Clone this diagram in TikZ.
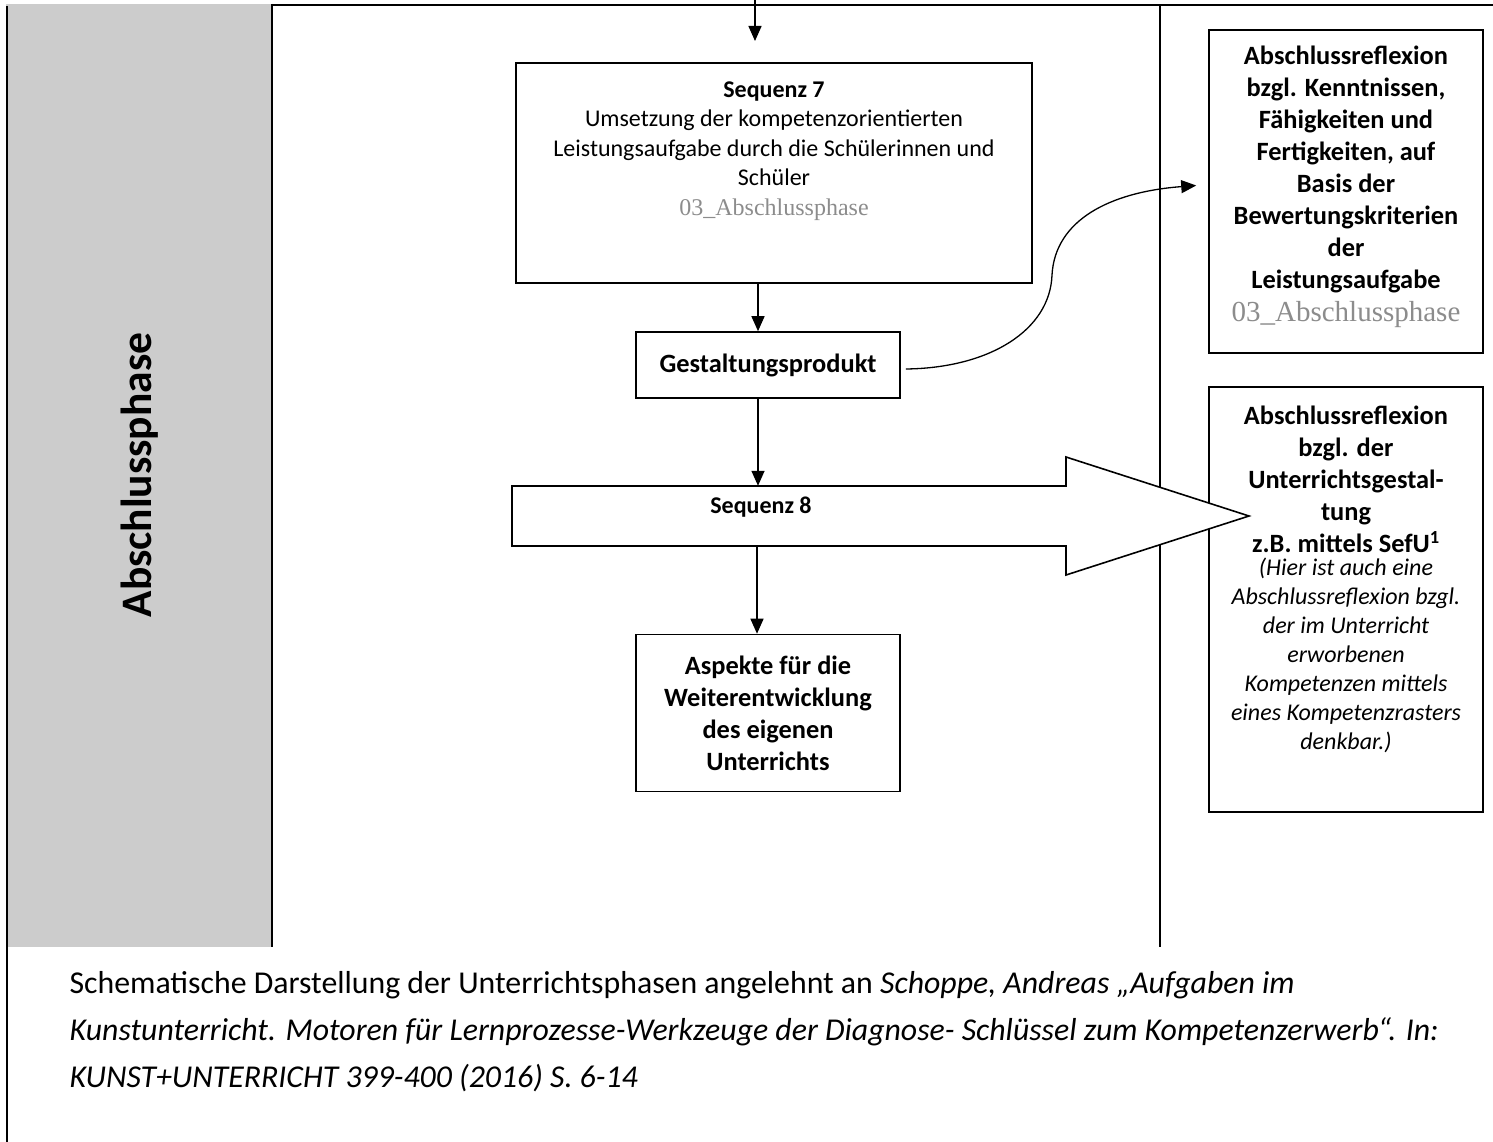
\documentclass[tikz,border=0pt]{standalone}
\usepackage{fontspec}
\setmainfont{Carlito}
\newfontfamily\tnr{Liberation Serif}
\usetikzlibrary{arrows.meta}
\definecolor{colgray}{RGB}{204,204,204}
\definecolor{txtgray}{RGB}{140,140,140}
\newcommand\myfs[2]{\fontsize{#1}{#2}\selectfont}
\begin{document}
\begin{tikzpicture}[x=1pt,y=-1pt,
  boxframe/.style={draw, line width=1.6pt, inner sep=0pt, fill=white},
  conn/.style={line width=1.4pt, -{Triangle[length=15pt,width=13pt]}},
  frameline/.style={line width=2pt},
  boldtxt/.style={align=center, font=\myfs{26.4}{32}\bfseries}]
\useasboundingbox (0,0) rectangle (1493,1142);
% frame
\fill[colgray] (6,4) rectangle (272,947);
\draw[frameline] (7,6) -- (7,1142);
\draw[frameline] (272,4) -- (272,947);
\draw[frameline] (271,5) -- (1493,5);
\draw[line width=1.6pt] (1160,5) -- (1160,947);
% phase label
\node[rotate=90, font=\myfs{43.5}{50}\bfseries] (phase) at (140,475) {Abschlussphase};
% Sequenz 7
\node[boxframe, minimum width=516pt, minimum height=220pt] (s7) at (774,173) {};
\node[align=center, font=\myfs{24}{29.5}] (s7t) at (774,151) {\textbf{Sequenz 7}\\Umsetzung der kompetenzorientierten\\Leistungsaufgabe durch die Schülerinnen und\\Schüler\\{\tnr\color{txtgray}03\_Abschlussphase}};
% Gestaltungsprodukt
\node[boxframe, minimum width=264pt, minimum height=66pt, boldtxt] (gp) at (768,365) {Gestaltungsprodukt};
% Aspekte
\node[boxframe, minimum width=264pt, minimum height=157pt, boldtxt] (asp) at (768,713) {Aspekte für die\\Weiterentwicklung\\des eigenen\\Unterrichts};
% right box 1
\node[boxframe, minimum width=274pt, minimum height=323pt] (r1) at (1346,191.5) {};
\node[boldtxt] (r1t) at (1346,187) {Abschlussreflexion\\bzgl. Kenntnissen,\\Fähigkeiten und\\Fertigkeiten, auf\\Basis der\\Bewertungskriterien\\der\\Leistungsaufgabe\\[1pt]{\mdseries\tnr\color{txtgray}\myfs{29}{32}03\_Abschlussphase}};
% right box 2
\node[boxframe, minimum width=274pt, minimum height=425pt] (r2) at (1346,599.5) {};
\node[boldtxt] (r2b) at (1346,479) {Abschlussreflexion\\bzgl. der\\Unterrichtsgestal-\\tung\\z.B. mittels SefU\textsuperscript{1}};
\node[align=center, font=\myfs{24}{29}\itshape] (r2i) at (1346,655) {(Hier ist auch eine\\Abschlussreflexion bzgl.\\der im Unterricht\\erworbenen\\Kompetenzen mittels\\eines Kompetenzrasters\\denkbar.)};
% Sequenz 8 block arrow
\node[minimum width=554pt, minimum height=60pt, inner sep=0pt] (s8) at (789,516) {};
\filldraw[fill=white, line width=1.6pt, line join=miter] (512,486) -- (1066,486) -- (1066,457) -- (1249,516) -- (1066,575) -- (1066,546) -- (512,546) -- cycle;
\node[font=\myfs{24}{29}\bfseries] (s8t) at (761,507) {Sequenz 8};
% connectors
\coordinate (topin) at (755,0);
\coordinate (topout) at (755,41);
\draw[conn] (topin) -- (topout);
\coordinate (ax) at (758,0);
\coordinate (bx) at (757,0);
\draw[conn] (s7.south -| ax) -- (gp.north -| ax);
\draw[conn] (gp.south -| ax) -- (s8.north -| ax);
\draw[conn] (s8.south -| bx) -- (asp.north -| bx);
\draw[conn, line width=1.3pt] ([xshift=5pt,yshift=-4pt]gp.east) .. controls (990,368) and (1050,330) .. (1052,275) .. controls (1055,220) and (1110,192) .. ([xshift=-12pt,yshift=6pt]r1.west);
% caption
\node[anchor=west, align=left, font=\myfs{31.8}{47}] (cap) at (66,1032) {Schematische Darstellung der Unterrichtsphasen angelehnt an \textit{Schoppe, Andreas „Aufgaben im}\\\textit{Kunstunterricht. Motoren für Lernprozesse-Werkzeuge der Diagnose- Schlüssel zum Kompetenzerwerb“. In:}\\\textit{KUNST+UNTERRICHT 399-400 (2016) S. 6-14}};
\end{tikzpicture}
\end{document}
